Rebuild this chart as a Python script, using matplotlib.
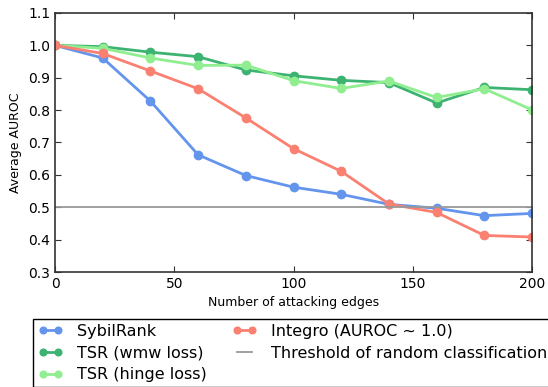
import matplotlib
matplotlib.use('Agg')
import matplotlib.pyplot as plt

edges = [0, 20, 40, 60, 80, 100, 120, 140, 160, 180, 200]
sybilrank = [1.0, 0.961, 0.828, 0.662, 0.598, 0.562, 0.540, 0.509, 0.497, 0.474, 0.481]
tsr_wmw = [1.0, 0.996, 0.979, 0.965, 0.924, 0.906, 0.892, 0.885, 0.822, 0.870, 0.863]
tsr_hinge = [1.0, 0.991, 0.961, 0.938, 0.939, 0.891, 0.867, 0.890, 0.839, 0.866, 0.801]
integro = [1.0, 0.975, 0.921, 0.866, 0.776, 0.681, 0.611, 0.510, 0.484, 0.413, 0.408]
threshold = 0.5

fig = plt.figure(figsize=(5.48, 3.87), dpi=100)
ax = fig.add_axes([55/548, 1-272/387, 477/548, 259/387])

kw = dict(marker='o', markersize=6, linewidth=2)
l1, = ax.plot(edges, sybilrank, color='#6495ED', label='SybilRank', **kw)
l2, = ax.plot(edges, tsr_wmw, color='#3CB371', label='TSR (wmw loss)', **kw)
l3, = ax.plot(edges, tsr_hinge, color='#90EE90', label='TSR (hinge loss)', **kw)
l4, = ax.plot(edges, integro, color='#FA8072', label='Integro (AUROC ~ 1.0)', **kw)
l5 = ax.axhline(threshold, color='#999999', linewidth=1.3, label='Threshold of random classification')

ax.set_xlim(0, 200)
ax.set_ylim(0.3, 1.1)
ax.set_xticks([0, 50, 100, 150, 200])
ax.set_yticks([0.3, 0.4, 0.5, 0.6, 0.7, 0.8, 0.9, 1.0, 1.1])
ax.tick_params(direction='in', top=True, right=True, labelsize=10, length=4, color='#333333')
for s in ax.spines.values():
    s.set_color('#333333')
    s.set_linewidth(1.2)
ax.set_xlabel('Number of attacking edges', fontsize=9)
ax.set_ylabel('Average AUROC', fontsize=9)

fig.legend(handles=[l1, l2, l3, l4, l5], loc='upper left', ncol=2,
           bbox_to_anchor=(33/548, 1-319/387), fontsize=11.5, fancybox=False,
           edgecolor='black', framealpha=1, borderaxespad=0, numpoints=2,
           markerscale=0.8, handlelength=1.55, handletextpad=0.9,
           labelspacing=0.42, columnspacing=1.6, borderpad=0.3)

fig.savefig('out.png', dpi=100)
